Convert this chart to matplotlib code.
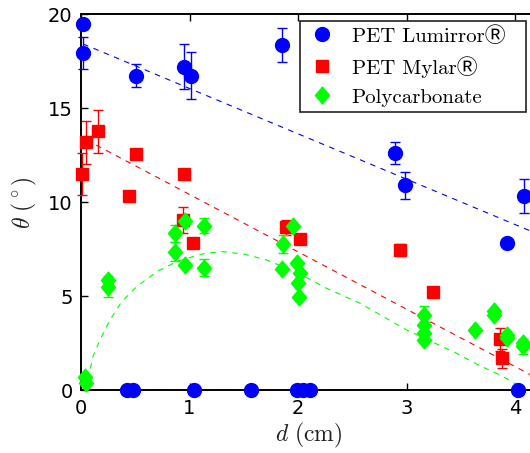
import numpy as np
import matplotlib
matplotlib.use('Agg')
import matplotlib.pyplot as plt
from matplotlib.path import Path
from matplotlib.font_manager import FontProperties

plt.rcParams['mathtext.fontset'] = 'cm'

# PET Lumirror (blue circles), err 0 = no error bar
lum_d = [0.02, 0.02, 0.51, 0.95, 1.01, 1.855, 2.89, 2.99, 4.08, 3.93,
         0.42, 0.48, 1.04, 1.57, 1.99, 2.05, 2.11, 4.03]
lum_t = [19.47, 17.95, 16.74, 17.22, 16.73, 18.38, 12.62, 10.9, 10.35, 7.86,
         0, 0, 0, 0, 0, 0, 0, 0]
lum_e = [0, 0.85, 0.6, 1.2, 1.25, 0.9, 0.6, 0.7, 0.9, 0,
         0, 0, 0, 0, 0, 0, 0, 0]

# PET Mylar (red squares)
myl_d = [0.012, 0.043, 0.16, 0.51, 0.44, 0.95, 0.943, 1.03, 1.89, 2.02,
         2.94, 3.24, 3.86, 3.88]
myl_t = [11.5, 13.2, 13.77, 12.58, 10.35, 11.5, 9.07, 7.83, 8.68, 8.04,
         7.47, 5.22, 2.72, 1.71]
myl_e = [1.1, 1.15, 1.15, 0, 0, 0.2, 0.7, 0, 0.4, 0,
         0.3, 0, 0.6, 0.5]

# Polycarbonate (green diamonds)
pc_d = [0.037, 0.045, 0.25, 0.25, 0.866, 0.866, 0.96, 0.96, 1.13, 1.13,
        1.95, 1.86, 1.85, 1.99, 2.02, 2.0, 2.01,
        3.16, 3.16, 3.16, 3.16, 3.63, 3.81, 3.81, 3.93, 3.93, 4.07, 4.07]
pc_t = [0.73, 0.38, 5.88, 5.52, 8.36, 7.38, 9.02, 6.68, 8.77, 6.53,
        8.75, 7.79, 6.45, 6.77, 6.23, 5.70, 4.99,
        4.02, 3.48, 3.04, 2.69, 3.22, 4.2, 4.0, 2.95, 2.8, 2.5, 2.35]
pc_e = [0, 0, 0, 0.55, 0.45, 0.5, 0, 0, 0.4, 0.45,
        0, 0.5, 0, 0, 0, 0, 0,
        0.47, 0, 0, 0, 0, 0, 0, 0, 0, 0, 0.4]

# fitted trend lines
lum_fit_d = [0.02, 4.2]
lum_fit_t = [18.42, 8.34]
myl_fit_d = [0.05, 4.2]
myl_fit_t = [13.32, 0.66]
pc_fit_d = [0.05, 0.08, 0.11, 0.175, 0.267, 0.375, 0.513, 0.70, 0.88, 1.05,
            1.15, 1.31, 1.5, 1.71, 2.0, 2.26, 2.57, 3.0, 3.46, 3.66, 3.88,
            4.05, 4.2]
pc_fit_t = [0.0, 1.0, 1.8, 2.69, 3.75, 4.72, 5.52, 6.32, 6.85, 7.15,
            7.3, 7.38, 7.25, 6.94, 6.25, 5.44, 4.64, 3.22, 1.98, 1.36, 0.77,
            0.2, -0.3]

diamond = Path([(0, 1), (0.85, 0), (0, -1), (-0.85, 0), (0, 1)],
               [Path.MOVETO, Path.LINETO, Path.LINETO, Path.LINETO, Path.CLOSEPOLY])

fig = plt.figure(figsize=(5.3, 4.53), dpi=100)
ax = fig.add_axes([0.1528, 0.138, 0.86, 0.8305])

dash = (0, (5, 5))
ax.plot(lum_fit_d, lum_fit_t, color='blue', lw=0.8, ls=dash)
ax.plot(myl_fit_d, myl_fit_t, color='red', lw=0.8, ls=dash)
ax.plot(pc_fit_d, pc_fit_t, color='#00ff00', lw=0.8, ls=dash)

sets = [
    (lum_d, lum_t, lum_e, 'blue', 'o', 10, 'PET Lumirror\u24c7'),
    (myl_d, myl_t, myl_e, 'red', 's', 8.5, 'PET Mylar\u24c7'),
    (pc_d, pc_t, pc_e, '#00ff00', diamond, 12, 'Polycarbonate'),
]
for d, t, e, c, m, ms, lab in sets:
    d = np.array(d); t = np.array(t); e = np.array(e)
    k = e > 0
    ax.errorbar(d[k], t[k], yerr=e[k], fmt='none', ecolor=c, elinewidth=1,
                capsize=3.5, capthick=1, clip_on=False, zorder=3)
    ax.plot(d, t, ls='none', marker=m, ms=ms, color=c, mec=c, label=lab,
            clip_on=False, zorder=4)

ax.set_xlim(0, 4.2)
ax.set_ylim(0, 20)
ax.set_xticks([0, 1, 2, 3, 4])
ax.set_yticks([0, 5, 10, 15, 20])
ax.tick_params(direction='in', length=5, width=1, labelsize=14, top=True,
               right=True, pad=6)
for s in ax.spines.values():
    s.set_linewidth(1.4)
ax.set_xlabel(r'$d\ \mathrm{(cm)}$', fontsize=17, color='#222222', labelpad=2)
ax.set_ylabel(r'$\theta\ (^\circ)$', fontsize=17, color='#222222', labelpad=6)

leg = ax.legend(loc='upper right', bbox_to_anchor=(0.4806, 0.5, 0.4959, 0.483),
                mode='expand', borderaxespad=0, fancybox=False, framealpha=1,
                edgecolor='#222222', handlelength=1.6, handletextpad=0.63,
                labelspacing=0.5, borderpad=0.25,
                prop=FontProperties(family=['cmr10', 'Noto Sans CJK JP', 'DejaVu Sans'],
                                    size=15))
leg.get_frame().set_linewidth(1.2)

fig.savefig('out.png', dpi=100)
